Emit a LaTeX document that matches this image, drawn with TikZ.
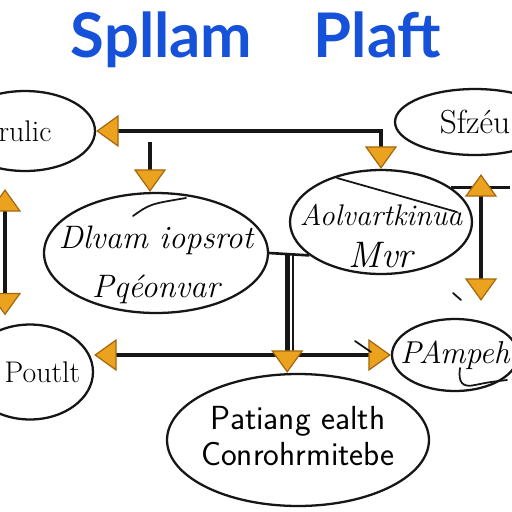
\documentclass[tikz,border=0pt]{standalone}
\usepackage{fontspec}
\newfontfamily\titlefont{Lato}
\usetikzlibrary{arrows.meta, shapes.geometric, calc}
\definecolor{title}{HTML}{1652D9}
\definecolor{tip_fill}{HTML}{EAA21F}
\definecolor{tip_edge}{HTML}{A5680F}
\definecolor{ink}{HTML}{161616}
% zero-width line, optionally lowered without changing its size
\newcommand{\ztext}[2][0cm]{\raisebox{#1}[\height][\depth]{\makebox[0pt]{#2}}}

\begin{document}
\begin{tikzpicture}[
    x=0.02cm, y=-0.02cm,
    font=\fontsize{17}{21}\selectfont,
    otri/.tip={Triangle[length=0.45cm, width=0.64cm, fill=tip_fill, color=tip_edge, line width=0.7pt]},
    bubble/.style={
        draw=ink,
        line width=1.3pt,
        ellipse,
        inner sep=0pt,
        align=center
    },
    link/.style={draw=ink, line width=2.6pt},
    thinlink/.style={draw=ink, line width=1.5pt},
    scribble/.style={draw=ink, line width=1pt, line cap=round}
]

\fill[white] (0,0) rectangle (512,512);
\useasboundingbox (0,0) rectangle (512,512);

% Title
\node[font=\titlefont\bfseries\fontsize{35}{40}\selectfont, text=title] (T) at (256,40) {Spllam\hspace{1em}Plaft};

% Bubbles
\node[bubble, minimum width=2.8cm, minimum height=1.6cm] (TL) at (25,131) {\ztext{rulic}};
\node[bubble, minimum width=3.2cm, minimum height=1.32cm, font=\fontsize{19}{22}\selectfont] (TR) at (475,122) {\ztext{Sfzéu}};
\node[bubble, minimum width=4.48cm, minimum height=2.4cm, font=\itshape\fontsize{18.5}{28}\selectfont] (ML) at (156,253) {\ztext[-0.24cm]{Dlvam iopsrot}\\\ztext[-0.24cm]{Pqéonvar}};
\node[bubble, minimum width=3.64cm, minimum height=2.08cm, font=\itshape\fontsize{17}{24}\selectfont] (MR) at (381,222) {\ztext[-0.28cm]{Aolvartkinua}\\\ztext[-0.28cm]{\fontsize{21}{24}\selectfont Mvr}};
\node[bubble, minimum width=2.52cm, minimum height=1.9cm] (BL) at (30,372) {\ztext{\hspace{0.5cm}Poutlt}};
\node[bubble, minimum width=5.24cm, minimum height=2.64cm, font=\sffamily\fontsize{19}{20}\selectfont] (BC) at (298,440) {\ztext[0.08cm]{Patiang ealth}\\\ztext[0.08cm]{Conrohrmitebe}};
\node[bubble, minimum width=2.52cm, minimum height=1.44cm, font=\itshape\fontsize{18}{22}\selectfont] (BR) at (455,355) {\ztext{PAmpeh}};

% Helper points
\coordinate (cut) at (150,142);
\coordinate (lx) at (5,0);
\coordinate (rx) at (481,0);
\coordinate (xr) at (510,0);
\coordinate (j) at ($(ML.east)!0.45!(MR.205)$);
\coordinate (j2) at ($(j)+(6,0)$);

% Edges
\draw[link, otri-otri] (TL.east) -| (MR.north);
\draw[link, -otri] (cut) -- (cut |- ML.north);
\draw[link, otri-otri, shorten <=0.34cm, shorten >=0.16cm] (TL.south -| lx) -- (BL.north -| lx);
\draw[thinlink] (ML.east) -- (MR.205);
\draw[thinlink] (MR.26) -- (MR.26 -| xr);
\draw[link, otri-otri, shorten <=0.36cm, shorten >=0.34cm] (TR.south -| rx) -- (BR.north -| rx);
\draw[link, otri-otri] (BL.east |- BR.west) -- (BR.west);
\draw[ink, line width=0.9pt] (j2) -- (j2 |- BR.west);
\draw[link, -otri] (j) -- (j |- BC.north);

% Pen marks
\draw[scribble] (133,216) .. controls (150,204) .. (186,198);
\draw[scribble] (337,178) -- (457,212);
\draw[scribble] (460,368) .. controls (458,382) and (462,388) .. (475,385) .. controls (490,382) .. (507,380);
\draw[scribble] (453,293) -- (461,300);
\draw[scribble] (355,341) -- (371,352);

\end{tikzpicture}
\end{document}
